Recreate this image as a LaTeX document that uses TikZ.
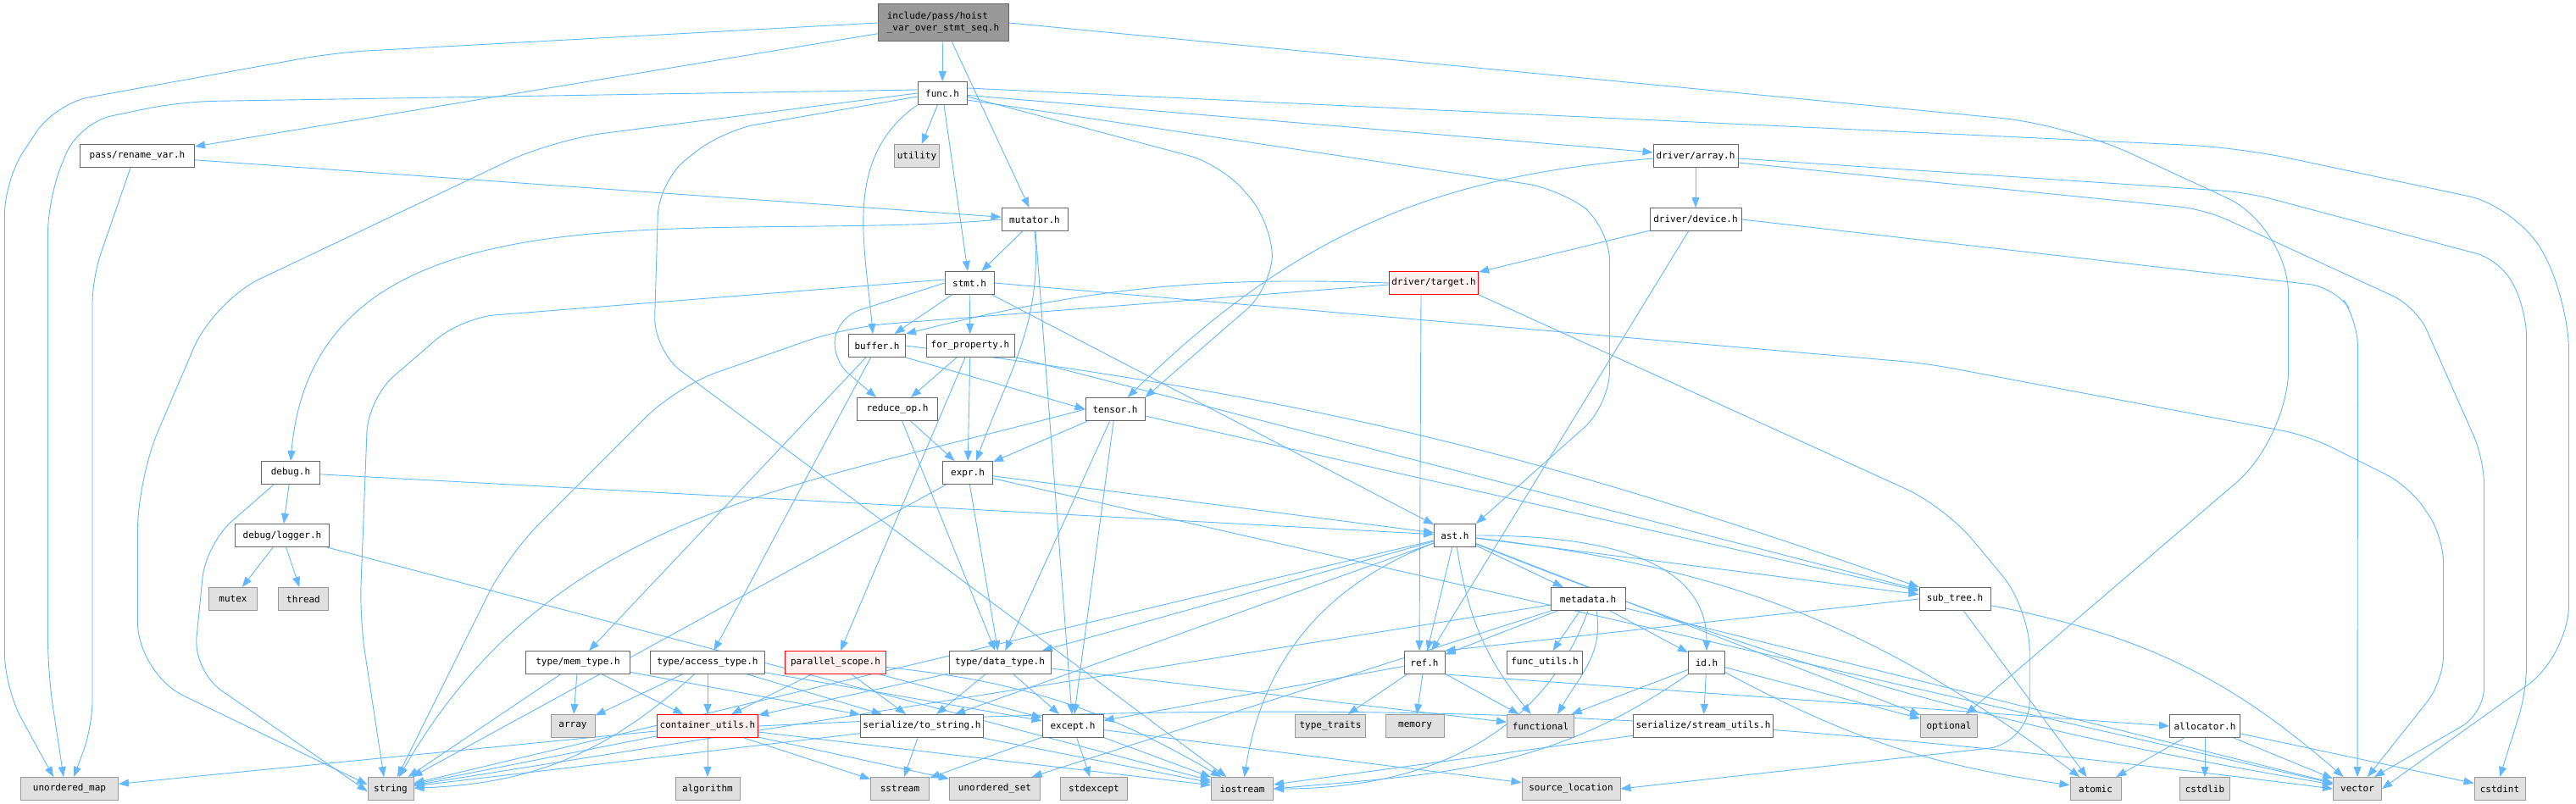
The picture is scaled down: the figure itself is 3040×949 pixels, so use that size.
\documentclass[tikz,border=0pt]{standalone}
\usepackage{fontspec}
\setmonofont{DejaVu Sans Mono}
\usepackage{tikz}
\usetikzlibrary{arrows.meta}
\usepackage{xcolor}

\definecolor{depblue}{HTML}{63B8FF}
\definecolor{boxline}{HTML}{666666}
\definecolor{extline}{HTML}{999999}
\definecolor{extfill}{HTML}{E0E0E0}
\definecolor{truncfill}{HTML}{FFF0F0}

\pgfdeclarelayer{background}
\pgfsetlayers{background,main}

\tikzset{
  hdr/.style={draw=boxline, fill=white, line width=1pt, minimum height=27pt,
    inner xsep=3pt, inner ysep=0pt, font=\fontsize{11}{14}\selectfont\ttfamily},
  ext/.style={hdr, draw=extline, fill=extfill},
  trunc/.style={hdr, draw=red, fill=truncfill},
  rootbox/.style={hdr, fill=extline, align=left, minimum height=44pt},
  dep/.style={draw=depblue, line width=0.9pt, -{Triangle[length=12pt,width=9pt]}},
}

\begin{document}
\begin{tikzpicture}[x=1pt, y=1pt]
\useasboundingbox (0,0) rectangle (3040,-949);

% project headers
\node[rootbox, minimum width=154pt] (root) at (1113,-27) {include/pass/hoist\\\_var\_over\_stmt\_seq.h};
\node[hdr, minimum width=135pt] (renamevar) at (162,-184) {pass/rename\_var.h};
\node[hdr, minimum width=58pt] (func) at (1112,-110) {func.h};
\node[hdr, minimum width=78pt] (mutator) at (1221,-259) {mutator.h};
\node[hdr, minimum width=100pt] (darray) at (2001,-184) {driver/array.h};
\node[hdr, minimum width=108pt] (ddevice) at (2001,-259) {driver/device.h};
\node[hdr, minimum width=58pt] (stmt) at (1144,-334) {stmt.h};
\node[trunc, minimum width=104pt] (dtarget) at (1692,-334) {driver/target.h};
\node[hdr, minimum width=67pt] (buffer) at (1035,-408) {buffer.h};
\node[hdr, minimum width=104pt] (forprop) at (1145,-408) {for\_property.h};
\node[hdr, minimum width=95pt] (reduceop) at (1059,-483) {reduce\_op.h};
\node[hdr, minimum width=70pt] (tensor) at (1316,-483) {tensor.h};
\node[hdr, minimum width=59pt] (expr) at (1142,-558) {expr.h};
\node[hdr, minimum width=69pt] (debug) at (343,-558) {debug.h};
\node[hdr, minimum width=111pt] (logger) at (333,-632) {debug/logger.h};
\node[hdr, minimum width=49pt] (ast) at (1717,-632) {ast.h};
\node[hdr, minimum width=88pt] (metadata) at (1874,-707) {metadata.h};
\node[hdr, minimum width=84pt] (subtree) at (2307,-707) {sub\_tree.h};
\node[hdr, minimum width=123pt] (memtype) at (682,-782) {type/mem\_type.h};
\node[hdr, minimum width=135pt] (accesstype) at (835,-782) {type/access\_type.h};
\node[trunc, minimum width=119pt] (parscope) at (986,-782) {parallel\_scope.h};
\node[hdr, minimum width=120pt] (datatype) at (1180,-782) {type/data\_type.h};
\node[hdr, minimum width=48pt] (ref) at (1681,-782) {ref.h};
\node[hdr, minimum width=89pt] (funcutils) at (1823,-782) {func\_utils.h};
\node[hdr, minimum width=43pt] (id) at (2014,-782) {id.h};
\node[trunc, minimum width=119pt] (contutils) at (835,-857) {container\_utils.h};
\node[hdr, minimum width=136pt] (tostring) at (1088,-857) {serialize/to\_string.h};
\node[hdr, minimum width=72pt] (except) at (1266,-857) {except.h};
\node[hdr, minimum width=157pt] (streamutils) at (2010,-857) {serialize/stream\_utils.h};
\node[hdr, minimum width=83pt] (allocator) at (2602,-857) {allocator.h};

% system headers
\node[ext, minimum width=52pt] (utility) at (1082,-184) {utility};
\node[ext, minimum width=57pt] (mutex) at (275,-707) {mutex};
\node[ext, minimum width=59pt] (thread) at (358,-707) {thread};
\node[ext, minimum width=52pt] (array) at (676,-857) {array};
\node[ext, minimum width=83pt] (typetraits) at (1570,-857) {type\_traits};
\node[ext, minimum width=69pt] (memory) at (1670,-857) {memory};
\node[ext, minimum width=79pt] (functional) at (1818,-857) {functional};
\node[ext, minimum width=67pt] (optional) at (2300,-857) {optional};
\node[ext, minimum width=115pt] (umap) at (82,-931) {unordered\_map};
\node[ext, minimum width=54pt] (string) at (461,-931) {string};
\node[ext, minimum width=76pt] (algorithm) at (835,-931) {algorithm};
\node[ext, minimum width=69pt] (sstream) at (1062,-931) {sstream};
\node[ext, minimum width=107pt] (uset) at (1174,-931) {unordered\_set};
\node[ext, minimum width=79pt] (stdexcept) at (1291,-931) {stdexcept};
\node[ext, minimum width=73pt] (iostream) at (1466,-931) {iostream};
\node[ext, minimum width=116pt] (srcloc) at (1854,-931) {source\_location};
\node[ext, minimum width=60pt] (atomic) at (2473,-931) {atomic};
\node[ext, minimum width=59pt] (cstdlib) at (2602,-931) {cstdlib};
\node[ext, minimum width=57pt] (vector) at (2782,-931) {vector};
\node[ext, minimum width=60pt] (cstdint) at (2950,-931) {cstdint};

\begin{pgfonlayer}{background}
\fill[white] (0,0) rectangle (3040,-949);

% hoist_var_over_stmt_seq.h
\draw[dep] (root) -- (func);
\draw[dep] (root) -- (mutator);
\draw[dep] (root) -- (renamevar);
\draw[dep, rounded corners=40pt] (root.west) -- ++(-640,-35) -- ++(-330,-60) -- ++(-60,-90) -- ++(0,-600) -- ([xshift=-19pt]umap.north);
\draw[dep, rounded corners=80pt] (root.east) -- ++(1250,-120) -- ++(260,-120) -- ++(0,-250) -- ([xshift=20pt]optional.north);

% pass/rename_var.h
\draw[dep] (renamevar) -- (mutator);
\draw[dep, rounded corners=30pt] ([xshift=-8pt]renamevar.south) -- ++(-45,-130) -- ++(0,-530) -- ([xshift=5pt]umap.north);

% func.h
\draw[dep] (func) -- (utility);
\draw[dep] (func) -- (stmt);
\draw[dep] (func.south west) to[out=215,in=95] ([xshift=-5pt]buffer.north);
\draw[dep] (func) -- (darray);
\draw[dep, rounded corners=40pt] ([yshift=4pt]func.west) -- ++(-870,-14) -- ++(-120,-25) -- ++(-36,-90) -- ++(0,-560) -- ([xshift=-7pt]umap.north);
\draw[dep, rounded corners=60pt] (func.west) -- ++(-430,-55) -- ++(-400,-190) -- ++(-90,-210) -- ++(0,-230) -- ([yshift=5pt]string.west);
\draw[dep, rounded corners=40pt] ([yshift=-4pt]func.west) -- ++(-230,-40) -- ++(-75,-60) -- ++(-6,-200) -- (iostream);
\draw[dep, rounded corners=40pt] ([yshift=-4pt]func.east) -- ++(300,-80) -- ++(60,-70) -- ++(0,-75) -- (tensor.north east);
\draw[dep, rounded corners=40pt] ([yshift=-8pt]func.east) -- ++(700,-105) -- ++(58,-45) -- ++(0,-210) -- (ast.north east);
\draw[dep, rounded corners=60pt] ([yshift=6pt]func.east) -- ++(1500,-70) -- ++(330,-70) -- ++(60,-110) -- ++(0,-420) -- (vector.east);

% driver/array.h
\draw[dep] (darray) -- (ddevice);
\draw[dep] (darray) to[bend right=20] (tensor);
\draw[dep, rounded corners=30pt] ([yshift=-3pt]darray.east) -- ++(600,-40) -- ++(300,-80) -- ++(30,-60) -- ++(0,-450) -- (cstdint.north);
\draw[dep, rounded corners=30pt] ([yshift=-8pt]darray.east) -- ++(550,-55) -- ++(250,-115) -- ++(80,-180) -- ++(0,-300) -- ([xshift=20pt]vector.north);

% driver/device.h
\draw[dep] (ddevice) -- (dtarget);
\draw[dep] (ddevice) -- (ref);
\draw[dep, rounded corners=30pt] (ddevice.east) -- ++(700,-80) -- ++(27,-40) -- (vector.north);

% driver/target.h
\draw[dep] (dtarget.west) to[bend right=8] (buffer.north east);
\draw[dep, rounded corners=50pt] ([yshift=-2pt]dtarget.west) -- ++(-640,-50) -- ++(-200,-70) -- ++(-200,-200) -- ([xshift=8pt]string.north);
\draw[dep] ([xshift=-15pt]dtarget.south) -- ([xshift=-6pt]ref.north);
\draw[dep, rounded corners=50pt] (dtarget.south east) -- ++(550,-250) -- ++(100,-120) -- ++(0,-160) -- (srcloc.east);

% mutator.h
\draw[dep] (mutator) -- (stmt);
\draw[dep] (mutator.south) to[out=-85,in=70] ([xshift=10pt]expr.north);
\draw[dep] (mutator) -- (except);
\draw[dep] (mutator.west) to[out=185,in=85] (debug.north);

% stmt.h
\draw[dep] (stmt) -- (buffer);
\draw[dep] (stmt) -- (forprop);
\draw[dep, rounded corners=25pt] (stmt.west) -- ++(-125,-40) -- ++(-8,-50) -- ([xshift=-25pt]reduceop.north);
\draw[dep] (stmt) -- (ast);
\draw[dep, rounded corners=40pt] ([yshift=4pt]stmt.west) -- ++(-570,-45) -- ++(-110,-95) -- ++(-10,-260) -- ([xshift=-8pt]string.north);
\draw[dep, rounded corners=30pt] (stmt.east) -- ++(1100,-95) -- ++(450,-85) -- ++(120,-60) -- ++(40,-60) -- ++(0,-170) -- ([xshift=12pt]vector.north);

% buffer.h
\draw[dep] (buffer.south east) -- (tensor.west);
\draw[dep] (buffer) -- (memtype);
\draw[dep] (buffer) -- (accesstype);
\draw[dep] (buffer.east) .. controls +(478,-62) and +(-455,160) .. (subtree.north west);

% for_property.h
\draw[dep] (forprop) -- (reduceop);
\draw[dep] (forprop) -- (expr);
\draw[dep] (forprop) -- (parscope);
\draw[dep] (forprop) -- (subtree);

% reduce_op.h
\draw[dep] (reduceop) -- (expr);
\draw[dep] (reduceop) -- (datatype);

% tensor.h
\draw[dep] (tensor) -- (expr);
\draw[dep] (tensor) -- (datatype);
\draw[dep] (tensor) -- (except);
\draw[dep] (tensor.west) .. controls +(-348,-93) and +(180,312) .. ([xshift=10pt]string.north);
\draw[dep] (tensor) -- (subtree);

% expr.h
\draw[dep] (expr) -- (ast);
\draw[dep] (expr) -- (datatype);
\draw[dep] (expr) -- (string);
\draw[dep] (expr) -- (vector);

% debug.h
\draw[dep] (debug) -- (logger);
\draw[dep] (debug) -- (ast);
\draw[dep, rounded corners=40pt] ([xshift=-20pt]debug.south) -- ++(-80,-70) -- ++(-15,-150) -- ([yshift=-3pt]string.west);

% debug/logger.h
\draw[dep] (logger) -- (mutex);
\draw[dep] (logger) -- (thread);
\draw[dep] (logger) -- (iostream);

% ast.h
\draw[dep] (ast) -- (ref);
\draw[dep] (ast) -- (metadata);
\draw[dep] (ast) -- (subtree);
\draw[dep] (ast.east) to[out=0,in=90] (id.north);
\draw[dep] (ast) -- (string);
\draw[dep] (ast) to[bend right=15] (functional);
\draw[dep] (ast) to[bend right=30] (iostream);
\draw[dep] (ast) -- (datatype);
\draw[dep] (ast) -- (tostring);
\draw[dep] (ast) to[bend left=15] (atomic);
\draw[dep] (ast) .. controls +(402,-160) and +(-427,73) .. (vector);
\draw[dep] (ast) -- (optional);

% metadata.h
\draw[dep] (metadata) -- (ref);
\draw[dep] (metadata) -- (funcutils);
\draw[dep] (metadata) -- (id);
\draw[dep] ([xshift=10pt]metadata.south) to[out=-80,in=60] ([xshift=20pt]functional.north);
\draw[dep] (metadata) -- (string);
\draw[dep] (metadata.south) to[out=250,in=0] (iostream.east);
\draw[dep] (metadata) -- (vector);
\draw[dep] (metadata) -- (uset);

% sub_tree.h
\draw[dep] (subtree.west) -- (ref.north east);
\draw[dep] (subtree) -- (atomic);
\draw[dep] (subtree) to[bend left=15] (vector);

% id.h
\draw[dep] (id) -- (functional);
\draw[dep] (id) -- (streamutils);
\draw[dep] (id) -- (optional);
\draw[dep] (id) to[bend right=10] (atomic);
\draw[dep] (id.south west) to[out=215,in=5] (iostream.east);

% ref.h
\draw[dep] (ref) -- (typetraits);
\draw[dep] (ref) -- (memory);
\draw[dep] (ref) -- (functional);
\draw[dep] (ref) -- (except);
\draw[dep] (ref.south east) -- (allocator.west);

% allocator.h
\draw[dep] (allocator) -- (atomic);
\draw[dep] (allocator) -- (cstdlib);
\draw[dep] (allocator) -- (vector);
\draw[dep] (allocator) -- (cstdint);

% type/mem_type.h
\draw[dep] (memtype) -- (array);
\draw[dep] (memtype) -- (string);
\draw[dep] (memtype) -- (contutils);
\draw[dep] (memtype) -- (tostring);

% type/access_type.h
\draw[dep] (accesstype) -- (array);
\draw[dep] (accesstype) to[bend left=20] (string);
\draw[dep] (accesstype) -- (contutils);
\draw[dep] (accesstype) -- (tostring);
\draw[dep] (accesstype) -- (except);

% parallel_scope.h
\draw[dep] (parscope) -- (contutils);
\draw[dep] (parscope) -- (tostring);
\draw[dep] (parscope) -- (except);
\draw[dep] (parscope) to[bend left=12] (iostream);

% type/data_type.h
\draw[dep] (datatype) -- (tostring);
\draw[dep] (datatype) -- (except);
\draw[dep] (datatype) -- (contutils);
\draw[dep] (datatype) -- (functional);

% container_utils.h
\draw[dep] (contutils) -- (algorithm);
\draw[dep] (contutils) -- (sstream);
\draw[dep] (contutils) -- (umap);
\draw[dep] (contutils) -- (string);
\draw[dep] (contutils) -- (iostream);
\draw[dep] (contutils.east) .. controls +(728,35) and +(-723,92) .. (vector.west);
\draw[dep] (contutils) -- (uset);

% serialize/to_string.h
\draw[dep] (tostring) -- (sstream);
\draw[dep] (tostring) -- (string);
\draw[dep] (tostring) -- (iostream);

% except.h
\draw[dep] (except) -- (stdexcept);
\draw[dep] (except) -- (sstream);
\draw[dep] (except) -- (srcloc);
\draw[dep] (except) -- (iostream);

% serialize/stream_utils.h
\draw[dep] (streamutils) -- (iostream);
\end{pgfonlayer}
\end{tikzpicture}
\end{document}
